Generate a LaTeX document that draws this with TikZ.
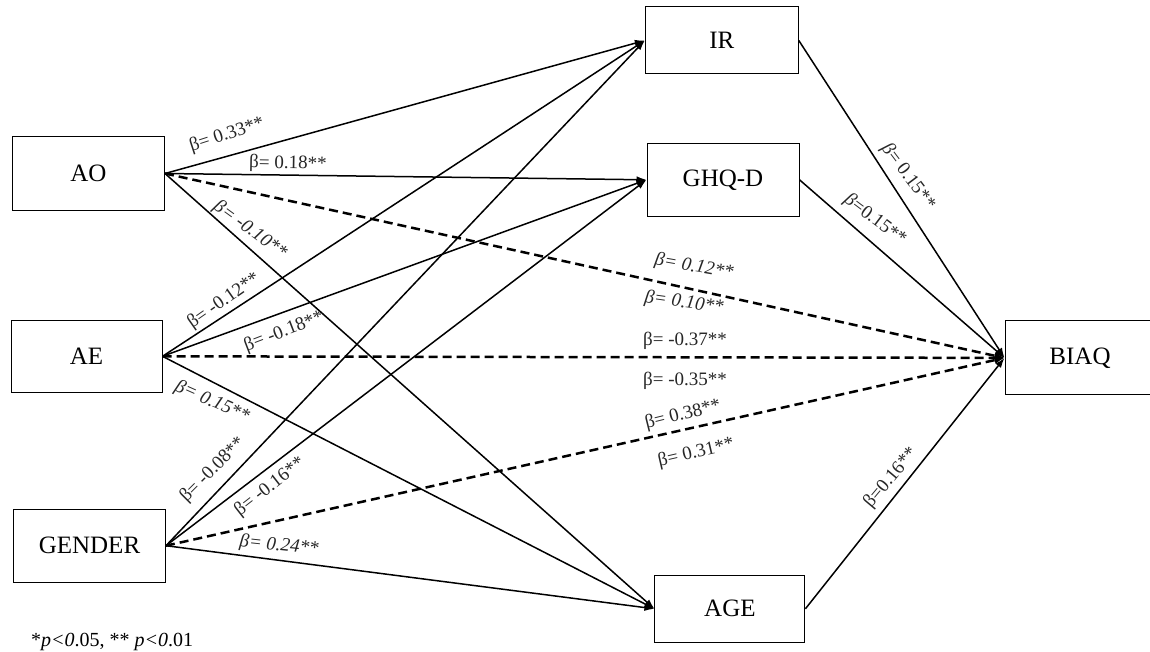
\documentclass[tikz,border=0pt]{standalone}
\usepackage{fontspec}
\setmainfont{Liberation Serif}
\usetikzlibrary{arrows.meta}
\begin{document}
\begin{tikzpicture}[x=1pt,y=-1pt,
  box/.style={draw, line width=1pt, inner sep=0pt, font=\fontsize{25}{30}\selectfont},
  lab/.style={font=\fontsize{19}{22}\selectfont, inner sep=0pt, text=black!85},
  ilab/.style={lab, font=\fontsize{19}{22}\selectfont\itshape},
  arr/.style={line width=1.5pt, -{Latex[length=10pt,width=7pt]}},
  darr/.style={line width=2.5pt, dash pattern=on 9pt off 5pt, -{Latex[length=10pt,width=8pt]}}
]
\useasboundingbox (0,0) rectangle (1150,652);

% boxes
\node[box, minimum width=152pt, minimum height=74pt] (AO) at (88.5,173.5) {AO};
\node[box, minimum width=151pt, minimum height=71.5pt] (AE) at (86.5,356.3) {AE};
\node[box, minimum width=152pt, minimum height=73pt] (GEN) at (89.5,545.7) {GENDER};
\node[box, minimum width=153pt, minimum height=67pt] (IR) at (721.8,40.5) {IR};
\node[box, minimum width=152pt, minimum height=72.5pt] (GHQ) at (723,179.8) {GHQ-D};
\node[box, minimum width=150pt, minimum height=67pt] (AGE) at (729.9,608.8) {AGE};
\node[box, minimum width=150pt, minimum height=74pt] (BIAQ) at (1080,357.9) {BIAQ};

% connectors
\draw[arr] (AO.east) -- (IR.west);
\draw[arr] (AO.east) -- (GHQ.west);
\draw[darr] (AO.east) -- (BIAQ.west);
\draw[arr] (AO.east) -- (AGE.west);

\draw[arr] (AE.east) -- (IR.west);
\draw[arr] (AE.east) -- (GHQ.west);
\draw[darr] (AE.east) -- (BIAQ.west);
\draw[arr] (AE.east) -- (AGE.west);

\draw[arr] (GEN.east) -- (IR.west);
\draw[arr] (GEN.east) -- (GHQ.west);
\draw[darr] (GEN.east) -- (BIAQ.west);
\draw[arr] (GEN.east) -- (AGE.west);

\draw[arr] (IR.east) -- (BIAQ.west);
\draw[arr] (GHQ.east) -- (BIAQ.west);
\draw[arr] (AGE.east) -- (BIAQ.west);

% labels
\node[lab, rotate=18] (l1) at (227,135) {β= 0.33**};
\node[lab, rotate=-1] (l2) at (288,164) {β= 0.18**};
\node[ilab, rotate=-36] (l3) at (250,230) {β= -0.10**};
\node[lab, rotate=35] (l4) at (224,301) {β= -0.12**};
\node[lab, rotate=21] (l5) at (284,332) {β= -0.18**};
\node[ilab, rotate=-24] (l6) at (212,402) {β= 0.15**};
\node[lab, rotate=45] (l7) at (213,470) {β= -0.08**};
\node[lab, rotate=38] (l8) at (270,487) {β= -0.16**};
\node[ilab, rotate=-6] (l9) at (279,546) {β= 0.24**};
\node[ilab, rotate=-10] (l10) at (694,267) {β= 0.12**};
\node[ilab, rotate=-8] (l11) at (684,303) {β= 0.10**};
\node[lab] (l12) at (685,341) {β= -0.37**};
\node[lab] (l13) at (685,381) {β= -0.35**};
\node[lab, rotate=14] (l14) at (683,415) {β= 0.38**};
\node[lab, rotate=13] (l15) at (696,453) {β= 0.31**};
\node[lab, rotate=-53] (l16) at (908,177) {\textit{β}= 0.15**};
\node[lab, rotate=-37] (l17) at (875,220) {\textit{β}=0.15**};
\node[lab, rotate=50] (l18) at (891,478) {β=0.16**};

% footnote
\node[anchor=base west, inner sep=0pt, font=\fontsize{20}{24}\selectfont] (note) at (31,646)
  {*\textit{p<0}.05, ** \textit{p<0}.01};
\end{tikzpicture}
\end{document}
